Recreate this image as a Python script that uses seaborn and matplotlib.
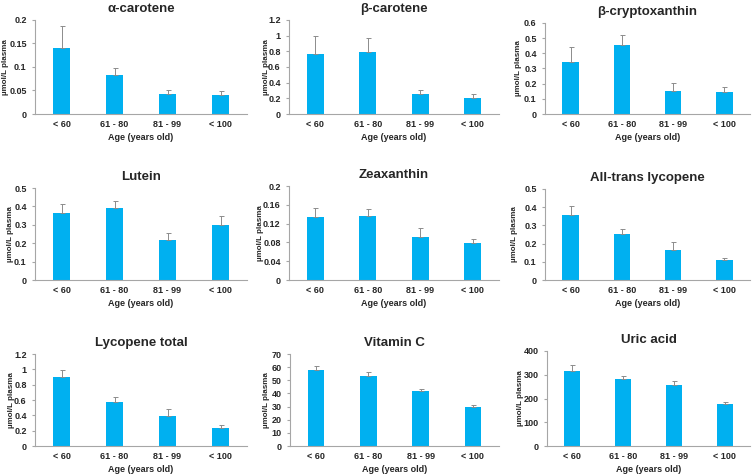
import matplotlib
matplotlib.use("Agg")
import matplotlib.pyplot as plt
import seaborn as sns
from matplotlib.ticker import FuncFormatter, MultipleLocator

ages = ["< 60", "61 - 80", "81 - 99", "< 100"]

titles = ["α-carotene", "β-carotene", "β-cryptoxanthin",
          "Lutein", "Zeaxanthin", "All-trans lycopene",
          "Lycopene total", "Vitamin C", "Uric acid"]

alpha_carotene = [0.140, 0.082, 0.042, 0.040]
alpha_carotene_err = [0.048, 0.015, 0.009, 0.009]
beta_carotene = [0.77, 0.79, 0.25, 0.21]
beta_carotene_err = [0.22, 0.18, 0.06, 0.04]
beta_cryptoxanthin = [0.345, 0.452, 0.152, 0.142]
beta_cryptoxanthin_err = [0.095, 0.07, 0.05, 0.033]
lutein = [0.365, 0.39, 0.22, 0.30]
lutein_err = [0.048, 0.038, 0.035, 0.05]
zeaxanthin = [0.133, 0.136, 0.092, 0.078]
zeaxanthin_err = [0.020, 0.015, 0.019, 0.010]
all_trans_lycopene = [0.357, 0.255, 0.167, 0.108]
all_trans_lycopene_err = [0.050, 0.027, 0.042, 0.015]
lycopene_total = [0.90, 0.575, 0.395, 0.235]
lycopene_total_err = [0.09, 0.06, 0.085, 0.035]
vitamin_c = [57.8, 53.0, 41.7, 29.5]
vitamin_c_err = [3.0, 3.0, 2.0, 1.8]
uric_acid = [317, 281, 255, 175]
uric_acid_err = [22, 14, 17, 12]

values = [alpha_carotene, beta_carotene, beta_cryptoxanthin,
          lutein, zeaxanthin, all_trans_lycopene,
          lycopene_total, vitamin_c, uric_acid]
errors = [alpha_carotene_err, beta_carotene_err, beta_cryptoxanthin_err,
          lutein_err, zeaxanthin_err, all_trans_lycopene_err,
          lycopene_total_err, vitamin_c_err, uric_acid_err]
ymax = [0.2, 1.2, 0.6, 0.5, 0.2, 0.5, 1.2, 70, 400]
ystep = [0.05, 0.2, 0.1, 0.1, 0.04, 0.1, 0.2, 10, 100]

sns.set_style("white")
plt.rcParams['font.family'] = ['Liberation Sans', 'DejaVu Sans']
plt.rcParams['font.weight'] = 'bold'

W, H = 753, 474
fig = plt.figure(figsize=(W / 100, H / 100), dpi=100)

# axes boxes in pixels: left, top, right, bottom
boxes = [
    (35, 20, 247, 114), (289, 20, 499, 114), (545, 23, 750, 114),
    (35, 188, 247, 280), (289, 186, 499, 280), (545, 189, 750, 280),
    (35, 354, 247, 446), (290, 354, 499, 446), (547, 351, 750, 446),
]
# x pixel of the y-label centre
ylab_x = [6, 266, 519, 11, 261, 515, 12, 266, 520]

bar_color = "#00B0F0"
grey = "#8c8c8c"

for i in range(9):
    l, t, r, b = boxes[i]
    ax = fig.add_axes([l / W, 1 - b / H, (r - l) / W, (b - t) / H])
    sns.barplot(x=ages, y=values[i], ax=ax, color=bar_color, width=0.32,
                saturation=1, edgecolor="none")
    ax.errorbar(range(4), values[i], yerr=[[0] * 4, errors[i]], fmt="none",
                ecolor=grey, elinewidth=0.7, capsize=1.8, capthick=0.7)
    ax.set_xlim(-0.5, 3.5)
    ax.set_ylim(0, ymax[i])
    ax.yaxis.set_major_locator(MultipleLocator(ystep[i]))
    ax.yaxis.set_major_formatter(FuncFormatter(lambda v, p: f"{round(v, 4):g}"))
    sns.despine(ax=ax)
    for s in ["left", "bottom"]:
        ax.spines[s].set_color("#a6a6a6")
        ax.spines[s].set_linewidth(0.8)
    ax.tick_params(axis="y", direction="out", length=2.5, width=0.8,
                   color="#a6a6a6", labelsize=6.5, pad=3.5, left=True)
    ax.tick_params(axis="x", length=0, labelsize=6.5, pad=4)
    for lab in ax.get_xticklabels() + ax.get_yticklabels():
        lab.set_fontweight("bold")
    ax.set_title(titles[i], fontsize=9.5, fontweight="bold", pad=6)
    ax.set_xlabel("Age (years old)", fontsize=6.5, fontweight="bold", labelpad=3)
    ax.set_ylabel("µmol/L plasma", fontsize=5.8, fontweight="bold")
    ax.yaxis.set_label_coords((ylab_x[i] - l) / (r - l), 0.5)
    ax.yaxis.label.set_verticalalignment("center")

plt.savefig("out.png", dpi=100)
